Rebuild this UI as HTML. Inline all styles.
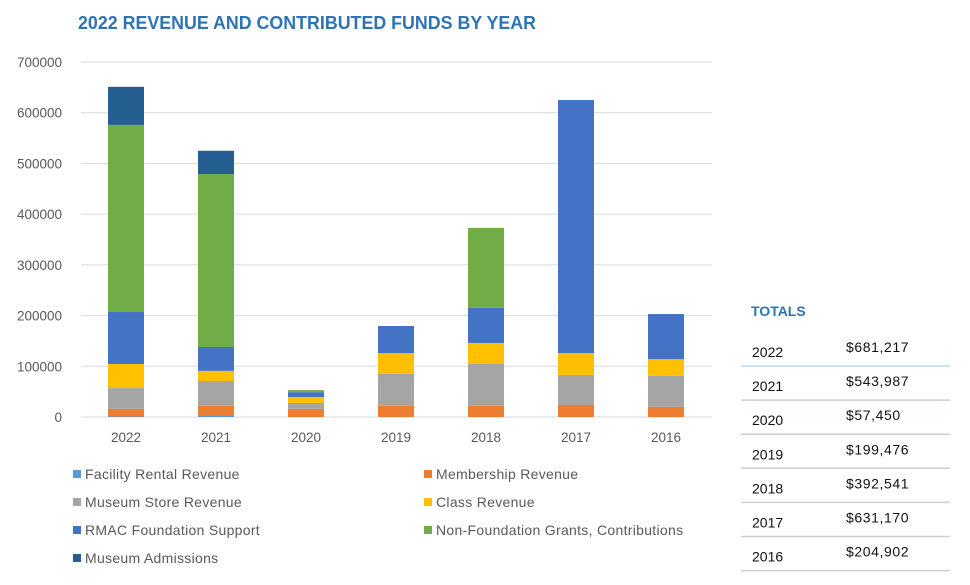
<!DOCTYPE html>
<html><head><meta charset="utf-8"><style>
body{margin:0;background:#fff;}
svg{display:block;font-family:"Liberation Sans",sans-serif;}
</style></head><body>
<svg id="chart" width="970" height="585">
<text x="78" y="29" font-size="18.5" font-weight="bold" fill="#2e74b5" textLength="458" lengthAdjust="spacingAndGlyphs">2022 REVENUE AND CONTRIBUTED FUNDS BY YEAR</text>
<g id="grid"></g><g id="bars"></g><g id="xlab"></g><g id="legend"></g><g id="table"></g>
</svg>
<script>
const categories=["2022","2021","2020","2019","2018","2017","2016"];
const seriesNames=["Facility Rental Revenue","Membership Revenue","Museum Store Revenue","Class Revenue","RMAC Foundation Support","Non-Foundation Grants, Contributions","Museum Admissions"];
const facility=[1000,3000,0,0,0,0,0];
const membership=[15000,19000,16000,22000,22000,23700,20000];
const store=[41000,49000,11600,63000,82500,59300,61000];
const classRev=[47500,20000,11800,41000,41500,43000,33000];
const rmac=[102500,47000,9600,53500,69000,499000,89000];
const grants=[369000,341000,4000,0,158000,0,0];
const admissions=[75000,46000,0,0,0,0,0];
const yTicks=[0,100000,200000,300000,400000,500000,600000,700000];
const totalYears=["2022","2021","2020","2019","2018","2017","2016"];
const totalValues=["$681,217","$543,987","$57,450","$199,476","$392,541","$631,170","$204,902"];
const colors=["#5b9bd5","#ed7d31","#a5a5a5","#ffc000","#4472c4","#70ad47","#255e91"];
const series=[facility,membership,store,classRev,rmac,grants,admissions];
const NS="http://www.w3.org/2000/svg";
const x0=81,band=90,yZero=417,yTop=62,yMax=700000;
const y=v=>yZero-(v/yMax)*(yZero-yTop);
const xc=i=>x0+band*i+band/2;
function mk(tag,attrs,parent,txt){const e=document.createElementNS(NS,tag);for(const k in attrs)e.setAttribute(k,attrs[k]);if(txt!==undefined)e.textContent=txt;parent.appendChild(e);return e;}
const grid=document.getElementById('grid');
yTicks.forEach(t=>{
 const l=mk('line',{x1:x0,x2:712,y1:y(t),y2:y(t),stroke:"#d9d9d9","stroke-width":1},grid);
 
 
 const tx=mk('text',{x:62,y:y(t)+5,"text-anchor":"end","font-size":13.5,fill:"#595959"},grid,String(t));
 
 
});
const bars=document.getElementById('bars');
categories.forEach((c,i)=>{
 let acc=0;
 series.forEach((s,k)=>{
  const v=s[i];if(!v)return;
  const r=mk('rect',{x:xc(i)-18,width:36,y:y(acc+v),height:y(acc)-y(acc+v),fill:colors[k]},bars);
  
  
  acc+=v;
 });
 const t=mk('text',{x:xc(i),y:442,"text-anchor":"middle","font-size":13.5,fill:"#595959"},document.getElementById('xlab'),c);
 
 
});
const lg=document.getElementById('legend');
seriesNames.forEach((n,k)=>{
 const col=k%2,row=Math.floor(k/2);
 const lx=col?424:73,ly=474+row*28;
 const g=mk('g',{},lg);
 
 
 mk('rect',{x:lx,y:ly-4,width:8,height:8,fill:colors[k]},g);
 mk('text',{x:lx+12,y:ly+5,"font-size":14,"letter-spacing":"0.3",fill:"#595959"},g,n);
});
const tb=document.getElementById('table');
const th=mk('text',{x:751,y:316,"font-size":14,"font-weight":"bold",fill:"#2e74b5"},tb,"TOTALS");


totalYears.forEach((yr,i)=>{
 const ty=352+i*34.1;
 const g=mk('g',{},tb);
 
 
 mk('text',{x:752,y:ty+5,"font-size":14,fill:"#111"},g,yr);
 mk('text',{x:846,y:ty,"font-size":14,"letter-spacing":"0.6",fill:"#111"},g,totalValues[i]);
 mk('line',{x1:741,x2:950,y1:366+i*34.1,y2:366+i*34.1,stroke:i==0?"#bdd7ee":"#c8d0d8","stroke-width":1.5},g);
});
</script>
</body></html>
